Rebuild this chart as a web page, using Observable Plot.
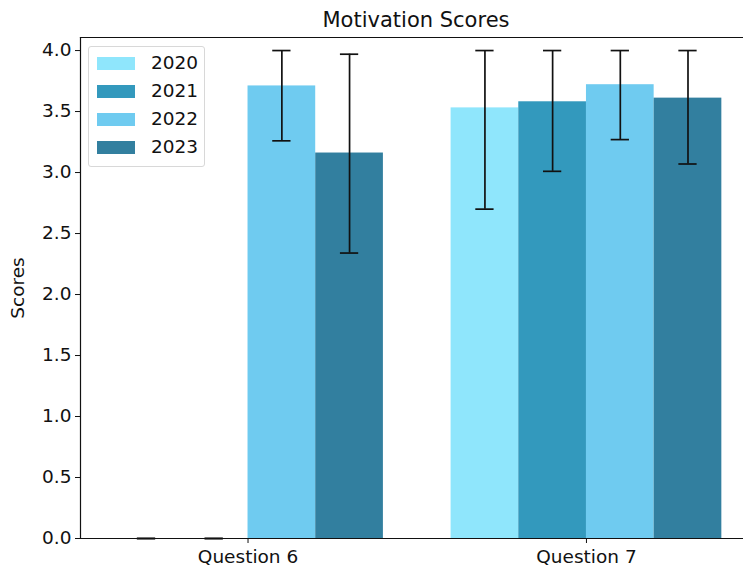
<!DOCTYPE html>
<html>
<head>
<meta charset="utf-8">
<script src="https://cdn.jsdelivr.net/npm/d3@7"></script>
<script src="https://cdn.jsdelivr.net/npm/@observablehq/plot@0.6"></script>
<style>
  html, body { margin: 0; padding: 0; background: #fff; overflow: hidden; }
  #wrap { position: relative; width: 743px; height: 573px; overflow: hidden; font-family: "DejaVu Sans", sans-serif; }
  #legend { position: absolute; left: 88px; top: 46px; width: 117px; height: 121px; border: 1px solid #d8d8d8; border-radius: 3px; background: rgba(255,255,255,0.85); box-sizing: border-box; }
  .row { position: absolute; left: 8px; height: 28px; display: flex; align-items: center; }
  .sw { width: 38px; height: 13px; margin-right: 16px; }
  .lb { font-size: 18.5px; color: #111; line-height: 1; }
</style>
</head>
<body>
<div id="wrap"></div>
<script>
const title = "Motivation Scores";
const questions = ["Question 6", "Question 7"];
const years = ["2020", "2021", "2022", "2023"];
const colors = ["#8fe6fc", "#3399bd", "#6fcbf0", "#327f9f"];
const q6Means = [0, 0, 3.71, 3.16];
const q6Low   = [0, 0, 3.26, 2.34];
const q6High  = [0, 0, 4.00, 3.97];
const q7Means = [3.53, 3.58, 3.72, 3.61];
const q7Low   = [2.70, 3.01, 3.27, 3.07];
const q7High  = [4.00, 4.00, 4.00, 4.00];
const yTicks = [0, 0.5, 1, 1.5, 2, 2.5, 3, 3.5, 4];

const barW = 0.2;
const capHalf = 0.027;
const series = [
  {means: q6Means, low: q6Low, high: q6High},
  {means: q7Means, low: q7Low, high: q7High}
];
const rows = [];
series.forEach((s, qi) => {
  years.forEach((yr, yi) => {
    rows.push({
      question: questions[qi], year: yr, qi,
      pos: qi + (yi - (years.length - 1) / 2) * barW,
      mean: s.means[yi], low: s.low[yi], high: s.high[yi]
    });
  });
});

const chart = Plot.plot({
  width: 743,
  height: 573,
  marginLeft: 80,
  marginRight: 0,
  marginTop: 37,
  marginBottom: 35,
  style: {fontFamily: "DejaVu Sans, sans-serif", fontSize: "18.5px", color: "#111", background: "#fff"},
  x: {domain: [-0.495, 1.464]},
  y: {domain: [0, 4.107]},
  color: {domain: years, range: colors},
  marks: [
    Plot.rectY(rows, {x1: d => d.pos - barW / 2, x2: d => d.pos + barW / 2, y1: 0, y2: "mean", fill: "year"}),
    Plot.ruleX(rows, {x: "pos", y1: "low", y2: "high", stroke: "#111", strokeWidth: 1.7}),
    Plot.ruleY(rows, {y: "low", x1: d => d.pos - capHalf, x2: d => d.pos + capHalf, stroke: "#111", strokeWidth: 1.7}),
    Plot.ruleY(rows, {y: "high", x1: d => d.pos - capHalf, x2: d => d.pos + capHalf, stroke: "#111", strokeWidth: 1.7}),
    Plot.frame({anchor: "top", stroke: "#111", strokeWidth: 1.2}),
    Plot.frame({anchor: "left", stroke: "#111", strokeWidth: 1.2}),
    Plot.frame({anchor: "bottom", stroke: "#111", strokeWidth: 1.2}),
    Plot.axisY({ticks: yTicks, tickFormat: d3.format(".1f"), tickSize: 5, tickPadding: 4,
      label: "Scores", labelAnchor: "center", labelArrow: "none", labelOffset: 70}),
    Plot.axisX({ticks: [0, 1], tickFormat: i => questions[i], tickSize: 5, tickPadding: 6, label: null}),
    Plot.text([title], {frameAnchor: "top", dy: -25, dx: 4, fontSize: 21, fill: "#111"})
  ]
});

const wrap = document.getElementById("wrap");
wrap.appendChild(chart);

const legend = document.createElement("div");
legend.id = "legend";
years.forEach((yr, i) => {
  const r = document.createElement("div");
  r.className = "row";
  r.style.top = (2 + i * 28) + "px";
  const sw = document.createElement("div");
  sw.className = "sw";
  sw.style.background = colors[i];
  const lb = document.createElement("span");
  lb.className = "lb";
  lb.textContent = yr;
  r.appendChild(sw); r.appendChild(lb);
  legend.appendChild(r);
});
wrap.appendChild(legend);
</script>
</body>
</html>
